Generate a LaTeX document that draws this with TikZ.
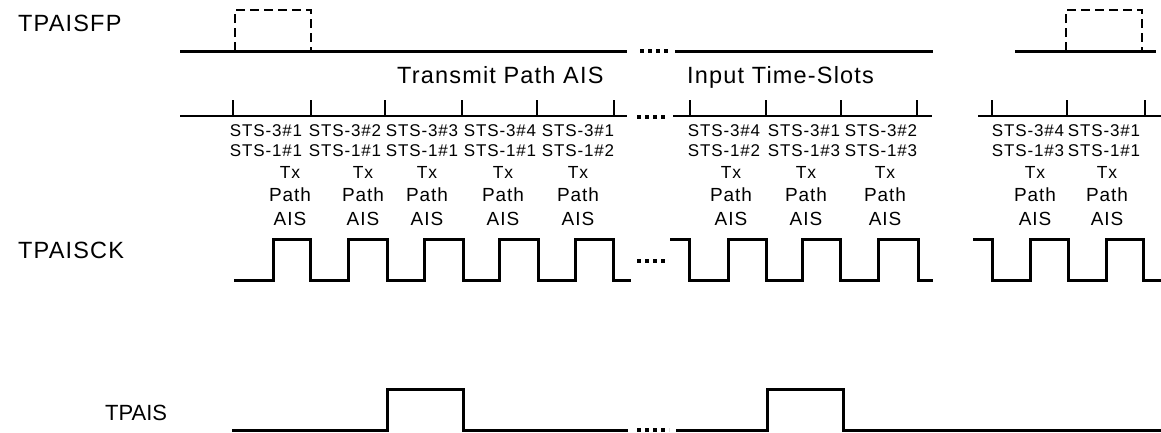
\documentclass[tikz,border=0pt]{standalone}
\usepackage{fontspec}
\setmainfont{Liberation Sans}
\newfontfamily\bigfam[LetterSpace=5]{Liberation Sans}
\newfontfamily\smallfam[LetterSpace=5]{Liberation Sans}
\tikzset{
  sig/.style={line width=3pt},
  thinsig/.style={line width=2.5pt},
  tickmark/.style={line width=2pt},
  dotrun/.style={line width=4pt, dash pattern=on 4pt off 4pt},
  pulsedash/.style={line width=2.5pt, dash pattern=on 9pt off 5pt},
  biglabel/.style={font={\bigfam\fontsize{23.5}{26}\selectfont}, anchor=base west, inner sep=0pt},
  plainlabel/.style={font={\fontsize{22}{26}\selectfont}, anchor=base west, inner sep=0pt},
  stslabel/.style={font={\smallfam\fontsize{17}{20}\selectfont}, anchor=base, inner sep=0pt},
  txlabel/.style={font={\smallfam\fontsize{17.5}{20}\selectfont}, anchor=base, inner sep=0pt},
  pathlabel/.style={font={\smallfam\fontsize{19}{22}\selectfont}, anchor=base, inner sep=0pt}
}
\begin{document}
\begin{tikzpicture}[x=1pt,y=-1pt]
\useasboundingbox (0,0) rectangle (1161,432);
% signal names
\node[biglabel] (lfp) at (18,31.5) {TPAISFP};
\node[biglabel] (lck) at (18,258) {TPAISCK};
\node[plainlabel] (lais) at (105,420) {TPAIS};
\node[biglabel] (ltp) at (397,83) {Transmit Path AIS};
\node[biglabel] (lin) at (687,83) {Input Time-Slots};
% TPAISFP
\draw[sig] (180,51) -- (627,51);
\draw[dotrun] (640,51) -- (668,51);
\draw[sig] (675,51) -- (933,51);
\draw[sig] (1015,51) -- (1156,51);
\draw[pulsedash] (235,51) -- (235,10) -- (311,10) -- (311,51);
\draw[pulsedash] (1066,51) -- (1066,10) -- (1142,10) -- (1142,51);
% time-slot line
\draw[thinsig] (180,116) -- (627,116);
\draw[dotrun] (637,117) -- (667,117);
\draw[thinsig] (673,116) -- (932,116);
\draw[thinsig] (978,116) -- (1161,116);
\foreach \x in {233,311,385,462,537,614,690,766,841,917,992,1067,1145}
  \draw[tickmark] (\x,100) -- (\x,116);
% slot labels
\foreach \n/\c/\t/\a/\b in {1/266/290/3\#1/1\#1, 2/345/363/3\#2/1\#1, 3/422/427/3\#3/1\#1, 4/500/503/3\#4/1\#1, 5/578/578/3\#1/1\#2,
  6/724/731/3\#4/1\#2, 7/804/806/3\#1/1\#3, 8/881/885/3\#2/1\#3, 9/1028/1035/3\#4/1\#3, 10/1104/1107/3\#1/1\#1}{
  \node[stslabel] (sa\n) at (\c,136.7) {STS-\a};
  \node[stslabel] (sb\n) at (\c,156.7) {STS-\b};
  \node[txlabel] (tx\n) at (\t,178) {Tx};
  \node[pathlabel] (pa\n) at (\t,201) {Path};
  \node[pathlabel] (ai\n) at (\t,225) {AIS};
}
% TPAISCK
\draw[sig] (234,280) -- (273,280) -- (273,239) -- (310,239) -- (310,280) -- (348,280) -- (348,239) -- (387,239) -- (387,280) -- (424,280) -- (424,239) -- (463,239) -- (463,280) -- (499,280) -- (499,239) -- (538,239) -- (538,280) -- (575,280) -- (575,239) -- (613,239) -- (613,280) -- (631,280);
\draw[dotrun] (637,261) -- (665,261);
\draw[sig] (670,239) -- (689,239) -- (689,280) -- (728,280) -- (728,239) -- (766,239) -- (766,280) -- (802,280) -- (802,239) -- (840,239) -- (840,280) -- (878,280) -- (878,239) -- (918,239) -- (918,280) -- (933,280);
\draw[sig] (973,239) -- (992,239) -- (992,280) -- (1030,280) -- (1030,239) -- (1068,239) -- (1068,280) -- (1106,280) -- (1106,239) -- (1143,239) -- (1143,280) -- (1161,280);
% TPAIS
\draw[sig] (232,430) -- (387,430) -- (387,389) -- (463,389) -- (463,430) -- (628,430);
\draw[dotrun] (637,430) -- (669,430);
\draw[sig] (676,430) -- (767,430) -- (767,389) -- (843,389) -- (843,430) -- (1161,430);
\end{tikzpicture}
\end{document}
